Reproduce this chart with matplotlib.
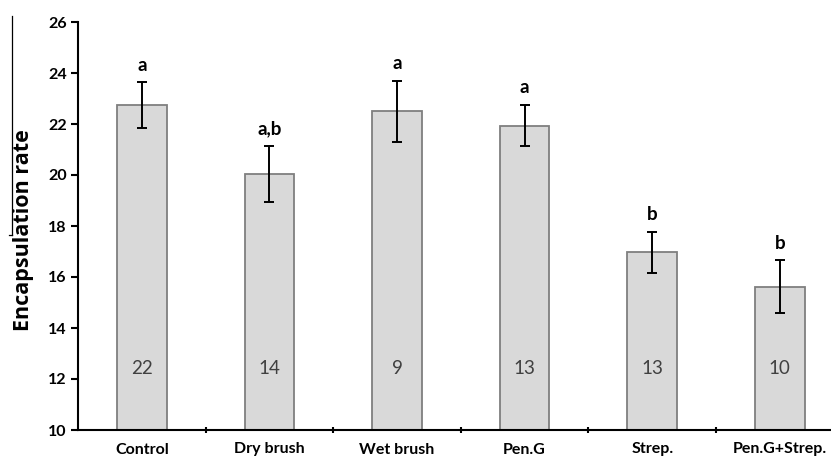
import matplotlib
matplotlib.use("Agg")
import matplotlib.pyplot as plt
from matplotlib.lines import Line2D
import numpy as np

# donnees
groupes = ["Control", "Dry brush", "Wet brush", "Pen.G", "Strep.", "Pen.G+Strep."]
moyennes = [22.73, 20.03, 22.50, 21.93, 16.97, 15.62]
erreurs = [0.90, 1.10, 1.20, 0.80, 0.80, 1.03]
lettres = ["a", "a,b", "a", "a", "b", "b"]
effectifs = ["22", "14", "9", "13", "13", "10"]

fig = plt.figure(figsize=(8.31, 4.59), dpi=100)
ax = fig.add_axes([78/831, 29/459, 753/831, 408/459])

x = np.arange(len(groupes))
ax.bar(x, np.array(moyennes) - 10, bottom=10, width=0.39,
       color="#d9d9d9", edgecolor="#7f7f7f", linewidth=1.3, zorder=2)
ax.errorbar(x, moyennes, yerr=erreurs, fmt="none", ecolor="black",
            elinewidth=1.4, capsize=3.5, capthick=1.4, zorder=3)

for i in range(len(groupes)):
    ax.text(x[i], moyennes[i] + erreurs[i] + 0.35, lettres[i], ha="center", va="bottom",
            fontsize=13.5, fontweight="bold", family="Lato")
    ax.text(x[i], 12.4, effectifs[i], ha="center", va="center",
            fontsize=13.5, color="#404040", family="Lato")

ax.set_xlim(-0.5, -0.5 + 753/127.6)
ax.set_ylim(10, 26)
ax.set_yticks(np.arange(10, 27, 2))
ax.set_xticks(x)
ax.set_xticklabels(groupes)
ax.set_xticks(x[:-1] + 0.5, minor=True)
ax.tick_params(axis="x", which="major", length=0, pad=9)
ax.tick_params(axis="x", which="minor", length=5, width=1.5, direction="inout")
ax.tick_params(axis="y", length=5, width=1.5, pad=3)
for lab in ax.get_xticklabels():
    lab.set_fontweight("bold")
    lab.set_family("Lato")
    lab.set_fontsize(11.5)
for lab in ax.get_yticklabels():
    lab.set_fontweight("bold")
    lab.set_family("Lato")
    lab.set_fontsize(11.5)

for s in ["top", "right"]:
    ax.spines[s].set_visible(False)
for s in ["left", "bottom"]:
    ax.spines[s].set_linewidth(1.5)

ax.set_ylabel("Encapsulation rate", fontsize=15.5, fontweight="bold", family="Open Sans")
ax.yaxis.set_label_coords(-44/753, 0.49)

# petit trait parasite de la figure d'origine
fig.add_artist(Line2D([12/831, 12/831], [1 - 16/459, 1 - 235/459], color="black", lw=0.9))
fig.add_artist(Line2D([9/831, 12/831], [1 - 235/459, 1 - 235/459], color="black", lw=0.9))

plt.savefig("out.png", dpi=100)
